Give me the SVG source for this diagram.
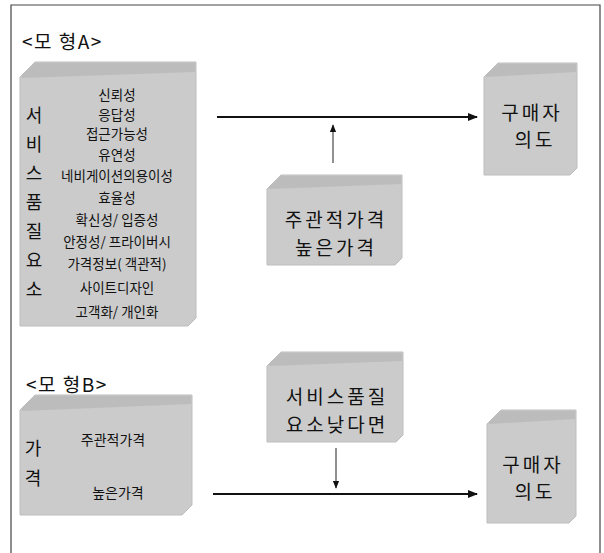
<svg xmlns="http://www.w3.org/2000/svg" width="604" height="553" viewBox="0 0 604 553">
<defs>
<style>
.frame{fill:none;stroke:#444;stroke-width:1.2}
.box{fill:#cbcbcb;stroke:#bdbdbd;stroke-width:1}
.band{fill:#b3b3b3}
.t{font-family:"Noto Sans CJK KR","Noto Sans",sans-serif;fill:#111;text-anchor:middle}
.lbl{font-family:"Noto Sans CJK KR","Liberation Sans",sans-serif;fill:#111;font-size:19px;letter-spacing:1.5px}
.list{font-size:13.5px}
.big{font-size:19px;letter-spacing:3px}
.v{font-size:18px}
.small{font-size:14px}
.main{stroke:#111;stroke-width:2;fill:none}
.thin{stroke:#222;stroke-width:1;fill:none}
</style>
<marker id="ah" markerUnits="userSpaceOnUse" markerWidth="10" markerHeight="10" viewBox="0 0 10 10" refX="9" refY="5" orient="auto">
<path d="M0,1 L10,5 L0,9 Z" fill="#111"/>
</marker>
<marker id="ahs" markerUnits="userSpaceOnUse" markerWidth="8" markerHeight="8" viewBox="0 0 10 10" refX="9" refY="5" orient="auto">
<path d="M0,1 L10,5 L0,9 Z" fill="#111"/>
</marker>
</defs>

<path class="frame" d="M11,553 L11,5 L600,5 L600,553"/>

<g id="labelA"><text class="lbl" x="22" y="49">&lt;모 형A&gt;</text></g>
<g id="labelB"><text class="lbl" x="26" y="392">&lt;모 형B&gt;</text></g>

<g id="boxA">
<path class="box" d="M20,77 L35,62 L196,62 L196,318 L188,326 L20,326 Z"/>
<path class="band" d="M22,75 L35,63 L195,63 L195,72 L22,78 Z" opacity="0.6"/>
<g class="t v">
<text x="34" y="122">서</text>
<text x="34" y="151">비</text>
<text x="34" y="180">스</text>
<text x="34" y="209">품</text>
<text x="34" y="238">질</text>
<text x="34" y="267">요</text>
<text x="34" y="296">소</text>
</g>
<g class="t list">
<text x="117" y="100">신뢰성</text>
<text x="117" y="120">응답성</text>
<text x="117" y="139">접근가능성</text>
<text x="117" y="160">유연성</text>
<text x="117" y="181">네비게이션의용이성</text>
<text x="117" y="203">효율성</text>
<text x="117" y="225">확신성/ 입증성</text>
<text x="117" y="247">안정성/ 프라이버시</text>
<text x="117" y="269">가격정보( 객관적)</text>
<text x="117" y="293">사이트디자인</text>
<text x="117" y="317">고객화/ 개인화</text>
</g>
</g>

<g id="priceA">
<path class="box" d="M267,189 L281,175 L402,175 L402,258 L395,265 L267,265 Z"/>
<path class="band" d="M269,187 L281,176 L401,176 L401,184 L269,189 Z" opacity="0.6"/>
<text class="t big" x="336" y="227">주관적가격</text>
<text class="t big" x="336" y="255">높은가격</text>
</g>

<g id="intentA">
<path class="box" d="M484,77 L498,63 L577,63 L577,168 L570,175 L484,175 Z"/>
<path class="band" d="M486,75 L498,64 L576,64 L576,72 L486,77 Z" opacity="0.6"/>
<text class="t big" x="532" y="120">구매자</text>
<text class="t big" x="535" y="147">의도</text>
</g>

<g id="boxB">
<path class="box" d="M20,410 L35,395 L192,395 L192,505 L182,515 L20,515 Z"/>
<path class="band" d="M22,408 L35,396 L191,396 L191,404 L22,411 Z" opacity="0.6"/>
<text class="t v" x="33" y="455">가</text>
<text class="t v" x="33" y="485">격</text>
<text class="t small" x="113" y="445">주관적가격</text>
<text class="t small" x="118" y="498">높은가격</text>
</g>

<g id="qualityB">
<path class="box" d="M267,366 L281,352 L403,352 L403,435 L396,442 L267,442 Z"/>
<path class="band" d="M269,364 L281,353 L402,353 L402,361 L269,366 Z" opacity="0.6"/>
<text class="t big" x="337" y="404">서비스품질</text>
<text class="t big" x="337" y="432">요소낮다면</text>
</g>

<g id="intentB">
<path class="box" d="M487,424 L501,410 L576,410 L576,516 L569,523 L487,523 Z"/>
<path class="band" d="M489,422 L501,411 L575,411 L575,419 L489,424 Z" opacity="0.6"/>
<text class="t big" x="533" y="472">구매자</text>
<text class="t big" x="535" y="499">의도</text>
</g>

<g id="connectors">
<line class="main" x1="217" y1="117" x2="477" y2="117" marker-end="url(#ah)"/>
<line class="thin" x1="333" y1="163" x2="333" y2="125" marker-end="url(#ahs)"/>
<line class="thin" x1="336" y1="448" x2="336" y2="488" marker-end="url(#ahs)"/>
<line class="main" x1="213" y1="494" x2="477" y2="494" marker-end="url(#ah)"/>
</g>
</svg>
